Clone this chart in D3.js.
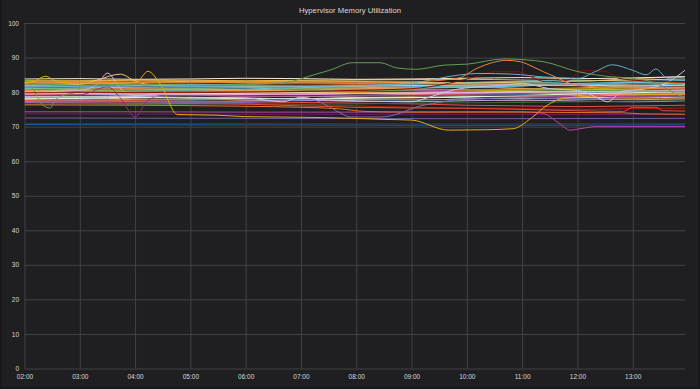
<!DOCTYPE html>
<html lang="en">
<head>
    <meta charset="UTF-8">
    <title>Hypervisor Memory Utilization</title>
    <script src="https://d3js.org/d3.v7.min.js"></script>
    <style>
        body { margin: 0; background: #18181b; }
        .tick text { fill: #d8d9da; font-family: "Liberation Sans", Arial, sans-serif; font-size: 6.5px; }
        .tick line { stroke: #434346; }
        .domain { display: none; }
        .line { fill: none; stroke-width: 1px; }
    </style>
</head>
<body>
<svg width="700" height="389"></svg>
<script>
    // time axis
    const hours = ["02:00","03:00","04:00","05:00","06:00","07:00","08:00","09:00","10:00","11:00","12:00","13:00","14:00"];
    const xTickLabels = ["02:00","03:00","04:00","05:00","06:00","07:00","08:00","09:00","10:00","11:00","12:00","13:00"];
    const yTickValues = [0, 10, 20, 30, 40, 50, 60, 70, 80, 90, 100];

    // hourly hosts (the dense band)
    const hv01 = [83.3, 83.3, 83.4, 83.4, 83.3, 83.4, 83.5, 83.6, 83.7, 83.5, 83.2, 83.9, 84.5];
    const hv02 = [82.7, 82.7, 82.6, 82.7, 82.8, 82.8, 82.9, 82.7, 82.6, 82.5, 82.3, 82.6, 82.8];
    const hv03 = [82.1, 82.0, 82.2, 82.3, 82.1, 82.0, 82.2, 82.4, 82.3, 82.0, 81.8, 82.3, 82.9];
    const hv04 = [81.8, 81.6, 81.9, 82.2, 82.0, 81.7, 81.9, 82.4, 82.8, 83.0, 82.4, 82.0, 82.5];
    const hv05 = [81.4, 81.5, 81.3, 81.6, 81.8, 81.9, 81.7, 81.5, 81.9, 82.3, 82.0, 81.6, 81.9];
    const hv06 = [81.0, 81.2, 81.4, 81.1, 81.3, 81.6, 81.4, 81.2, 81.6, 81.8, 82.2, 81.4, 81.2];
    const hv07 = [80.7, 80.4, 80.6, 80.9, 80.7, 80.9, 81.1, 80.8, 80.6, 80.9, 81.2, 81.7, 82.0];
    const hv08 = [80.3, 80.6, 80.2, 80.4, 80.5, 80.3, 80.6, 80.9, 80.7, 80.5, 80.8, 80.6, 80.4];
    const hv09 = [80.0, 79.8, 80.2, 80.3, 80.1, 79.9, 80.2, 80.5, 80.3, 80.0, 80.4, 80.8, 81.0];
    const hv10 = [79.7, 79.9, 79.6, 79.5, 79.8, 80.0, 79.9, 79.6, 79.8, 80.2, 80.0, 79.7, 79.9];
    const hv11 = [79.4, 79.2, 79.5, 79.7, 79.4, 79.3, 79.6, 79.8, 79.5, 79.4, 79.7, 80.2, 80.5];
    const hv12 = [79.1, 79.3, 79.0, 79.2, 79.5, 79.4, 79.1, 79.3, 79.6, 79.8, 79.5, 79.2, 79.6];
    const hv13 = [78.8, 78.6, 78.9, 79.1, 78.8, 78.7, 78.9, 79.2, 79.0, 78.7, 79.0, 79.4, 79.3];
    const hv14 = [78.5, 78.7, 78.4, 78.3, 78.6, 78.8, 78.5, 78.4, 78.7, 78.9, 78.6, 78.3, 78.6];
    const hv15 = [78.2, 78.0, 78.3, 78.5, 78.2, 78.1, 78.4, 78.6, 78.3, 78.1, 78.4, 78.8, 79.0];
    const hv16 = [77.9, 78.1, 77.8, 77.7, 78.0, 78.2, 77.9, 77.7, 78.0, 78.3, 78.0, 77.8, 78.1];
    const hv17 = [77.6, 77.4, 77.7, 77.9, 77.6, 77.5, 77.8, 78.0, 77.7, 77.5, 77.8, 78.1, 78.0];
    const hv18 = [77.3, 77.5, 77.2, 77.1, 77.4, 77.6, 77.3, 77.2, 77.5, 77.7, 77.4, 77.2, 77.5];
    const hv19 = [77.5, 77.4, 77.5, 77.3, 77.2, 77.0, 76.8, 76.6, 76.2, 76.0, 75.8, 76.0, 76.2];
    const hv20 = [76.8, 76.8, 76.7, 76.8, 76.6, 76.4, 76.0, 75.6, 75.4, 75.2, 75.0, 75.2, 75.4];
    const hv21 = [83.8, 83.9, 83.7, 83.8, 84.0, 83.9, 83.7, 83.8, 84.0, 84.2, 83.9, 84.1, 84.5];
    const hv22 = [82.4, 82.5, 82.3, 82.1, 82.4, 82.6, 82.5, 82.3, 82.7, 83.2, 83.5, 83.1, 83.4];
    const hv23 = [81.2, 81.0, 80.8, 81.1, 81.3, 81.0, 80.9, 81.2, 81.5, 81.1, 80.7, 80.4, 79.9];
    const hv24 = [80.5, 80.8, 81.0, 80.7, 80.4, 80.6, 80.9, 81.2, 81.4, 81.0, 80.6, 80.9, 81.3];
    const hv25 = [79.9, 79.6, 79.8, 80.0, 80.2, 80.1, 79.9, 80.0, 80.3, 80.6, 80.9, 81.2, 81.5];
    const hv26 = [79.3, 79.5, 79.7, 79.4, 79.2, 79.5, 79.7, 79.5, 79.2, 79.0, 79.3, 79.6, 79.4];
    const hv27 = [78.0, 78.2, 78.5, 78.3, 78.1, 78.0, 78.2, 78.4, 78.6, 79.0, 79.5, 79.8, 80.2];
    const hv28 = [76.5, 76.6, 76.4, 76.5, 76.7, 76.5, 76.6, 76.8, 76.9, 77.0, 77.2, 77.4, 77.6];
    const hv29 = [80.2, 80.0, 80.3, 80.6, 80.9, 81.3, 81.5, 81.6, 81.4, 81.8, 82.5, 82.8, 82.2];
    const hv30 = [82.9, 83.0, 82.9, 83.1, 83.0, 83.2, 83.1, 82.8, 82.6, 82.9, 83.2, 83.5, 83.8];
    const hv31 = [81.6, 81.8, 81.5, 81.3, 81.6, 81.7, 81.5, 81.8, 82.0, 82.4, 82.1, 81.7, 81.9];
    const hv32 = [79.5, 79.6, 79.4, 79.5, 79.7, 79.8, 79.6, 79.7, 79.9, 80.0, 80.1, 80.3, 80.6];
    const bandColors = ["#EAB839", "#EF843C", "#C15C17", "#6ED0E0", "#447EBC", "#70DBED", "#E5AC0E", "#9AC48A",
                        "#BA43A9", "#F9BA8F", "#5195CE", "#D683CE", "#F29191", "#B7DBAB", "#F4D598", "#82B5D8",
                        "#E0752D", "#AEA2E0", "#E24D42", "#BF1B00", "#FCEACA", "#64B0C8", "#7EB26D", "#F9934E",
                        "#CCA300", "#EA6460", "#E0F9D7", "#3F6833", "#65C5DB", "#F2C96D", "#806EB7", "#FCE2DE"];

    // hosts that move around
    const goldTimes = ["02:00","02:12","02:23","02:33","03:00","03:45","04:02","04:14","04:28","04:46","05:30","06:00","06:30","07:30","08:00","08:30","09:00","09:40","10:20","10:50","11:10","11:26","11:45","12:15","13:00","14:00"];
    const goldValues = [82.5, 83.3, 84.6, 83.3, 82.4, 82.5, 83.0, 86.0, 82.0, 73.5, 73.3, 72.9, 72.8, 72.6, 72.4, 72.1, 71.9, 69.0, 69.1, 69.4, 72.5, 76.0, 78.2, 78.8, 79.2, 79.5];
    const greenTimes = ["02:00","03:00","04:00","05:00","06:00","06:40","07:14","07:32","07:56","08:26","08:44","09:05","09:35","10:01","10:40","11:06","11:23","12:01","12:38","13:00","13:25","13:50","14:00"];
    const greenValues = [82.5, 82.0, 82.3, 82.0, 82.2, 82.6, 85.0, 86.4, 88.5, 88.5, 87.0, 86.6, 87.8, 88.1, 89.6, 89.3, 88.8, 85.9, 84.4, 84.0, 82.6, 79.1, 78.2];
    const orangeTimes = ["02:00","04:00","06:00","08:00","09:00","09:50","10:12","10:26","10:43","10:58","11:12","11:23","11:36","11:47","12:05","13:00","14:00"];
    const orangeValues = [83.0, 82.8, 83.0, 82.9, 83.0, 84.0, 87.0, 88.4, 89.2, 88.8, 87.3, 85.9, 84.4, 83.0, 81.8, 81.2, 80.8];
    const cyanTimes = ["02:00","04:00","06:00","08:00","09:00","09:53","10:12","10:50","11:23","12:01","12:20","12:38","13:00","13:15","13:25","13:38","14:00"];
    const cyanValues = [81.5, 81.8, 81.5, 81.8, 82.6, 85.0, 85.4, 85.2, 84.4, 84.0, 86.0, 87.9, 86.3, 85.0, 86.7, 84.0, 84.5];
    const redTimes = ["02:00","06:00","08:00","09:00","09:40","10:10","10:30","10:55","11:10","11:25","11:50","12:05","12:30","12:45","13:10","13:40","14:00"];
    const redValues = [79.8, 80.0, 80.5, 81.0, 82.5, 84.5, 85.9, 85.9, 84.4, 83.0, 83.5, 86.2, 86.0, 84.0, 83.3, 83.0, 82.8];
    const lilacTimes = ["02:00","03:00","04:00","05:00","06:00","06:40","07:00","07:20","08:00","09:00","09:20","09:45","10:10","10:40","11:00","11:30","12:00","12:20","12:33","12:48","13:10","13:36","14:00"];
    const lilacValues = [78.6, 78.5, 78.7, 78.4, 78.3, 77.2, 78.5, 77.8, 77.5, 77.2, 78.6, 80.6, 81.5, 82.0, 82.5, 81.0, 80.5, 78.6, 77.2, 80.2, 80.8, 82.6, 87.0];
    const greenDipTimes = ["02:00","02:10","02:20","02:28","02:33","02:50","03:10","04:00","06:00","08:00","10:00","12:00","14:00"];
    const greenDipValues = [84.2, 80.5, 76.2, 75.4, 77.7, 79.6, 80.2, 80.4, 80.1, 80.3, 80.8, 80.5, 80.2];
    const pinkTimes = ["02:00","03:00","03:19","03:30","03:44","04:00","04:30","06:00","08:00","10:00","12:00","14:00"];
    const pinkValues = [80.0, 80.5, 82.3, 85.5, 81.0, 79.0, 79.5, 79.3, 79.6, 79.9, 80.2, 80.4];
    const tanTimes = ["02:00","03:00","03:19","03:44","04:00","04:20","05:00","07:00","09:00","11:00","13:00","14:00"];
    const tanValues = [82.0, 82.2, 83.5, 85.2, 83.2, 82.0, 81.8, 81.6, 81.9, 82.1, 81.8, 82.0];
    const violetDipTimes = ["02:00","03:00","03:30","03:45","04:00","04:14","04:30","06:00","08:00","10:00","12:00","14:00"];
    const violetDipValues = [79.0, 79.2, 81.5, 78.0, 72.8, 77.7, 79.0, 78.8, 78.9, 79.1, 78.7, 79.0];
    const purpleTimes = ["02:00","04:00","06:00","06:40","07:10","07:32","07:43","07:54","08:26","08:48","09:02","09:30","10:00","11:00","12:00","13:00","14:00"];
    const purpleValues = [77.0, 77.2, 77.0, 77.5, 77.8, 75.6, 73.9, 72.8, 72.8, 73.9, 75.4, 77.0, 78.0, 78.3, 78.0, 78.5, 79.0];
    const orangeLowTimes = ["02:00","04:00","06:00","07:00","07:40","08:10","09:00","10:00","11:00","12:00","12:50","13:10","14:00"];
    const orangeLowValues = [76.3, 76.2, 75.9, 75.6, 75.2, 74.4, 74.2, 74.2, 74.2, 74.1, 74.0, 73.7, 73.6];
    const redStepTimes = ["02:00","04:00","06:00","07:00","08:00","09:00","10:00","11:00","12:00","12:50","13:00","13:25","13:33","14:00"];
    const redStepValues = [77.0, 76.8, 76.5, 76.0, 75.6, 75.4, 75.3, 75.0, 74.6, 74.4, 75.6, 75.6, 74.6, 74.5];
    const magentaTimes = ["02:00","04:00","06:00","08:00","10:00","11:00","11:22","11:40","11:52","12:05","12:20","13:00","14:00"];
    const magentaValues = [74.3, 74.3, 74.2, 74.2, 74.3, 74.3, 73.9, 71.0, 69.0, 69.5, 70.0, 70.0, 70.0];
    const lowTimes = ["02:00","06:00","10:00","14:00"];
    const plumValues = [73.7, 73.6, 73.6, 73.5];
    const violetValues = [72.5, 72.4, 72.3, 72.4];
    const navyValues = [70.9, 70.9, 70.8, 70.9];
    const blueValues = [70.6, 70.5, 70.4, 70.5];

    const movers = [
        { times: lowTimes, values: navyValues, color: "#0A437C" },
        { times: lowTimes, values: blueValues, color: "#1A5E9E" },
        { times: lowTimes, values: violetValues, color: "#705DA0" },
        { times: lowTimes, values: plumValues, color: "#6D1F62" },
        { times: magentaTimes, values: magentaValues, color: "#BA43A9" },
        { times: orangeLowTimes, values: orangeLowValues, color: "#E0752D" },
        { times: redStepTimes, values: redStepValues, color: "#E24D42" },
        { times: purpleTimes, values: purpleValues, color: "#806EB7" },
        { times: violetDipTimes, values: violetDipValues, color: "#962D82" },
        { times: tanTimes, values: tanValues, color: "#F2C96D" },
        { times: pinkTimes, values: pinkValues, color: "#E5A8E2" },
        { times: greenDipTimes, values: greenDipValues, color: "#629E51" },
        { times: lilacTimes, values: lilacValues, color: "#C9C2EE" },
        { times: redTimes, values: redValues, color: "#890F02" },
        { times: cyanTimes, values: cyanValues, color: "#64B0C8" },
        { times: orangeTimes, values: orangeValues, color: "#EF843C" },
        { times: greenTimes, values: greenValues, color: "#629E51" },
        { times: goldTimes, values: goldValues, color: "#E5AC0E" }
    ];

    const toMin = s => { const p = s.split(":"); return +p[0] * 60 + +p[1]; };
    const fmt = m => String(Math.floor(m / 60)).padStart(2, "0") + ":" + String(m % 60).padStart(2, "0");

    const svg = d3.select("svg");
    const plotLeft = 24.5, plotRight = 685, plotTop = 23, plotBottom = 368.5;

    svg.append("rect").attr("x", 2).attr("y", 0).attr("width", 696).attr("height", 387).attr("fill", "#1f1f22");

    const x = d3.scaleLinear().domain([toMin("02:00"), toMin("14:00")]).range([plotLeft, 688]);
    const y = d3.scaleLinear().domain([0, 100]).range([plotBottom, plotTop]);

    // y axis with grid
    svg.append("g")
        .attr("transform", "translate(" + plotLeft + ",0)")
        .call(d3.axisLeft(y).tickValues(yTickValues).tickSize(-(plotRight - plotLeft)).tickPadding(5.5));

    // x axis with grid
    svg.append("g")
        .attr("transform", "translate(0," + plotBottom + ")")
        .call(d3.axisBottom(x).tickValues(xTickLabels.map(toMin)).tickFormat(fmt).tickSize(-(plotBottom - plotTop)).tickPadding(5.5));

    svg.append("clipPath").attr("id", "plot")
        .append("rect").attr("x", plotLeft).attr("y", 0).attr("width", plotRight - plotLeft).attr("height", 389);

    const line = d3.line()
        .x(d => x(d[0]))
        .y(d => y(d[1]))
        .curve(d3.curveMonotoneX);

    const g = svg.append("g").attr("clip-path", "url(#plot)");

    const band = [hv01, hv02, hv03, hv04, hv05, hv06, hv07, hv08, hv09, hv10, hv11, hv12, hv13, hv14, hv15, hv16,
                  hv17, hv18, hv19, hv20, hv21, hv22, hv23, hv24, hv25, hv26, hv27, hv28, hv29, hv30, hv31, hv32];

    band.forEach((vals, i) => {
        g.append("path")
            .datum(hours.map((t, j) => [toMin(t), vals[j]]))
            .attr("class", "line")
            .attr("stroke", bandColors[i])
            .attr("d", line);
    });

    movers.forEach(s => {
        g.append("path")
            .datum(s.times.map((t, j) => [toMin(t), s.values[j]]))
            .attr("class", "line")
            .attr("stroke", s.color)
            .attr("d", line);
    });

    // title
    svg.append("text")
        .attr("x", 350)
        .attr("y", 11)
        .attr("text-anchor", "middle")
        .attr("dominant-baseline", "middle")
        .style("font-family", "Liberation Sans, Arial, sans-serif")
        .style("font-size", "7.7px")
        .style("font-weight", "500")
        .style("fill", "#d8d9da")
        .text("Hypervisor Memory Utilization");
</script>
</body>
</html>
